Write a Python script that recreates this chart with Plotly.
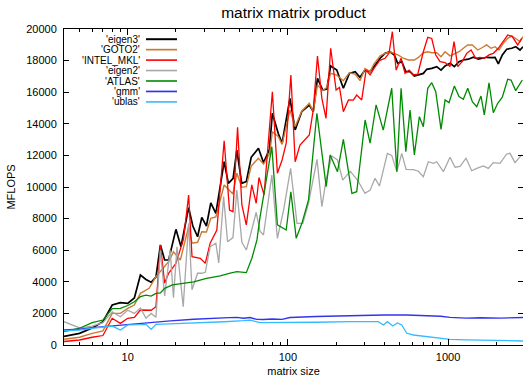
import plotly.graph_objects as go

# ---------------- data ----------------
eigen3_x = [4, 5, 6, 7, 8, 9, 10, 11, 12, 13, 14, 15, 16, 17, 18, 20, 21.5, 24, 25.5, 27.3, 29, 31, 33, 35.5,
            40, 42.5, 45.5, 48, 51.5, 55, 59, 65.5, 70.5, 76.7, 80, 87, 92, 103, 111, 122, 136, 144, 153, 165,
            175, 185, 202, 222, 242, 263, 282, 303, 326, 345, 377, 404, 434, 462, 485, 514, 545, 579, 616, 653,
            701, 736, 791, 850, 904, 958, 1029, 1095, 1171, 1246, 1338, 1438, 1545, 1637, 1743, 1854, 1965, 2060,
            2182, 2324, 2497, 2645, 2813, 2937]
eigen3_y = [550, 740, 1075, 1475, 2530, 2680, 2640, 2975, 4430, 4150, 3970, 4300, 6330, 5380, 5380, 7320, 6220,
            8690, 7530, 6850, 8080, 7530, 9000, 8330, 11600, 10230, 10550, 12340, 10230, 10340, 11880, 12450, 11540,
            12390, 14670, 13400, 12770, 15610, 13610, 14770, 15190, 14770, 16880, 16140, 16200, 17660, 17400, 16250,
            17190, 17300, 16940, 17400, 17300, 17620, 18150, 18460, 18560, 18350, 17830, 17930, 17300, 17300, 17030,
            17100, 17190, 17450, 17510, 17620, 17400, 17660, 17830, 17620, 17930, 18040, 18090, 18210, 18090, 18150,
            18210, 18190, 18210, 17790, 18360, 18720, 18780, 18880, 18670, 18880]

goto2_x = [4, 5, 6, 7, 8, 9, 10, 11, 12, 13.6, 15, 16, 17, 18, 19.3, 21.3, 24, 25.2, 27.3, 29, 31, 33, 35.5, 40,
           45.4, 48, 51.5, 55, 59, 65.5, 70.5, 77, 80, 87, 92, 103, 111, 122, 136, 144, 153, 165, 175, 185, 202,
           222, 242, 263, 282, 303, 326, 345, 377, 404, 434, 462, 490, 526, 565, 616, 653, 701, 747, 791, 850, 904,
           958, 1029, 1095, 1171, 1246, 1327, 1418, 1532, 1637, 1743, 1854, 1965, 2080, 2213, 2358, 2497, 2683,
           2813, 2937]
goto2_y = [360, 490, 740, 890, 2000, 2000, 2320, 2530, 3270, 3590, 4320, 4650, 5000, 5270, 5900, 5380, 7490, 6440,
           6500, 7170, 7150, 8020, 8100, 10130, 9560, 10870, 9980, 10020, 11330, 11820, 11450, 12130, 13500, 13200,
           12700, 14870, 13820, 14800, 15300, 14770, 16460, 16100, 16300, 17190, 17080, 16730, 17230, 17150, 16730,
           17500, 17300, 17800, 18300, 18460, 18560, 18450, 18350, 18150, 18040, 18040, 18200, 18500, 18560, 18500,
           18500, 18250, 18560, 18300, 18420, 18560, 18780, 18990, 18990, 18670, 18830, 18990, 18780, 18880, 18670,
           19090, 19410, 19560, 19350, 19200, 19520]

mkl_x = [4, 5, 6, 7, 8, 9, 10, 11, 12, 14, 15, 16, 17, 18, 20, 21.3, 22.3, 24, 25.2, 28.4, 30.5, 32.7, 36, 40,
         43.2, 45.4, 48.5, 51.6, 55, 59.5, 63.4, 66, 71, 80, 86, 92, 97.6, 104.4, 111, 119, 128, 136, 144, 153,
         163, 173, 185, 200, 210, 222, 239, 256, 269, 289, 308, 326, 345, 373, 404, 428, 449, 474, 509, 539, 571,
         607, 647, 701, 747, 791, 838, 891, 958, 1029, 1090, 1150, 1228, 1308, 1392, 1489, 1583, 1684, 1802, 1917,
         2060, 2213, 2358, 2518, 2723, 2883]
mkl_y = [220, 316, 490, 600, 1690, 1370, 1690, 1750, 2215, 2200, 2420, 6330, 3920, 4540, 5170, 6010, 6700, 9490,
         5590, 5490, 5170, 6440, 7280, 12930, 8540, 8440, 13780, 8860, 7600, 10130, 8970, 10600, 9500, 16030, 10870,
         11710, 12770, 17090, 11600, 12660, 12980, 13290, 14870, 18290, 15610, 14350, 18780, 16140, 16300, 14770,
         15510, 15500, 15820, 15510, 17400, 17100, 17500, 18000, 18150, 18460, 19830, 17400, 18150, 17190, 17400,
         17090, 17140, 18560, 19470, 19400, 18350, 17930, 17880, 17620, 19200, 17620, 17950, 18460, 18670, 18150,
         18200, 18150, 18360, 18460, 18780, 19200, 19620, 19520, 18990, 19410]

eigen2_x = [4, 5, 6, 7, 8, 9, 10, 11, 12, 13, 14, 15, 16, 17, 18.4, 19.3, 20.3, 22.2, 24, 25.2, 27.3, 29, 30.5,
            32.7, 35.5, 37, 39.7, 42, 45.4, 48, 51.6, 55, 58, 63.4, 67, 70.4, 79.4, 86, 94, 104, 114, 124, 134.5,
            152, 163, 173, 188, 204, 220, 245, 272, 303, 326, 350, 373, 418, 445, 479, 514, 547, 607, 653, 701, 753,
            810, 850, 935, 1029, 1106, 1188, 1295, 1405, 1510, 1660, 1784, 1917, 2110, 2324, 2437, 2618, 2883]
eigen2_y = [1475, 1080, 1200, 1410, 2100, 1790, 2200, 2000, 2340, 1700, 2000, 1750, 6000, 3100, 6000, 3000, 6220,
            2420, 7700, 3500, 4540, 4540, 4600, 6220, 6440, 5200, 9390, 6540, 6800, 9810, 6500, 6010, 6850, 8400,
            7200, 6960, 10760, 6750, 8540, 11180, 7700, 7700, 8970, 11750, 8750, 10440, 11960, 11710, 10440, 11000,
            10440, 9600, 9800, 10550, 10060, 12130, 12000, 10970, 12130, 11120, 11100, 11000, 10650, 11600, 11500,
            11600, 10970, 11880, 11250, 11300, 11820, 11030, 11180, 11330, 11180, 11540, 11500, 12090, 12130, 11540,
            12030]

atlas_x = [4, 5, 6, 7, 8, 9, 10, 11, 12, 13, 14, 15, 16, 17, 19, 22, 25.8, 31, 37.8, 43, 48, 55, 59.6, 64.1, 67,
           79.4, 86, 97.6, 104.4, 112.7, 122.3, 134.5, 151.7, 173.4, 183.6, 204, 222, 251, 269, 303.5, 326, 355.5,
           394, 445, 479, 509, 545, 579, 616, 662, 701, 747, 791, 838, 904, 958, 1014, 1095, 1171, 1246, 1327, 1418,
           1510, 1606, 1684, 1802, 1917, 2042, 2182, 2358, 2472, 2645, 2908]
atlas_y = [840, 1060, 1410, 1580, 2300, 2320, 2500, 2740, 3060, 3160, 3100, 3270, 3300, 3590, 3800, 3900, 4000,
           4220, 4370, 4540, 4640, 4580, 5490, 6650, 8100, 12550, 7600, 7280, 9700, 6750, 7700, 9180, 14670, 10020,
           12030, 10970, 13020, 9600, 9700, 14240, 12770, 15200, 13600, 16250, 10970, 16250, 12230, 14870, 12030,
           14450, 13820, 16250, 16600, 16030, 13650, 15510, 15340, 16390, 15720, 15550, 16250, 15400, 15080, 15760,
           14560, 16600, 14700, 15300, 15680, 16820, 16770, 16100, 16770]

gmm_x = [4, 5, 6, 7, 8, 10, 13, 16, 18.5, 25.8, 31, 35, 43, 48, 52.8, 58, 64, 70, 80, 92, 103, 150, 200, 300, 395,
         550, 737, 900, 1029, 1300, 1600, 2110, 2937]
gmm_y = [950, 1000, 1100, 1160, 1200, 1310, 1400, 1475, 1530, 1630, 1650, 1690, 1730, 1750, 1690, 1740, 1620, 1610,
         1650, 1620, 1740, 1800, 1835, 1870, 1900, 1900, 1880, 1820, 1750, 1700, 1720, 1700, 1740]

ublas_x = [4, 5, 6, 7, 8, 9, 10, 12, 13, 14, 15, 20, 30, 33, 40, 52.8, 58, 67, 94, 150, 245, 367, 395, 418, 452,
           483, 514, 553, 607, 736, 935, 1029, 1308, 1660, 2213, 2937]
ublas_y = [900, 950, 1050, 1150, 1200, 950, 1270, 1290, 1310, 990, 1310, 1350, 1400, 1435, 1470, 1540, 1580, 1410,
           1410, 1440, 1475, 1475, 1270, 1475, 1200, 1400, 1270, 740, 633, 525, 400, 360, 330, 316, 290, 253]

series_names = ["'eigen3'", "'GOTO2'", "'INTEL_MKL'", "'eigen2'", "'ATLAS'", "'gmm'", "'ublas'"]
y_ticks = [0, 2000, 4000, 6000, 8000, 10000, 12000, 14000, 16000, 18000, 20000]
x_ticks = [10, 100, 1000]
x_minor = [4, 5, 6, 7, 8, 9, 20, 30, 40, 50, 60, 70, 80, 90, 200, 300, 400, 500, 600, 700, 800, 900, 2000]

# ---------------- style ----------------
colors = ["#000000", "#cc7a33", "#ff0000", "#a8a8a8", "#008a00", "#3333ee", "#33bbff"]
widths = [1.7, 1.4, 1.3, 1.3, 1.3, 1.4, 1.3]
FONT = "Liberation Sans, Arial, sans-serif"

W, H = 523, 377
L, R, T, B = 64, 0, 29, 32

fig = go.Figure()
data = [(eigen3_x, eigen3_y), (goto2_x, goto2_y), (mkl_x, mkl_y), (eigen2_x, eigen2_y),
        (atlas_x, atlas_y), (gmm_x, gmm_y), (ublas_x, ublas_y)]
for (xs, ys), name, c, w in zip(data, series_names, colors, widths):
    fig.add_trace(go.Scatter(x=xs, y=ys, mode="lines", name=name,
                             line=dict(color=c, width=w), showlegend=False))

# gnuplot-style legend: right-aligned text, sample line to its right
pw = W - L - R
ph = H - T - B
def px_x(p):
    return (p - L) / pw
def px_y(p):
    return (H - B - p) / ph

row0, step = 39.2, 10.45
for i, (name, c, w) in enumerate(zip(series_names, colors, widths)):
    yy = row0 + i * step
    fig.add_annotation(x=px_x(141), y=px_y(yy), xref="paper", yref="paper",
                       text=name, showarrow=False, xanchor="right", yanchor="middle",
                       borderpad=0, font=dict(family=FONT, size=10, color="#000"))
    fig.add_shape(type="line", xref="paper", yref="paper",
                  x0=px_x(146), x1=px_x(177), y0=px_y(yy), y1=px_y(yy),
                  line=dict(color=c, width=w + 0.3))

fig.update_layout(
    width=W, height=H,
    margin=dict(l=L, r=R, t=T, b=B, autoexpand=False),
    paper_bgcolor="white", plot_bgcolor="white",
    font=dict(family=FONT, size=11, color="#000"),
    title=dict(text="matrix matrix product", x=293.5 / W, xref="container", xanchor="center",
               y=1 - 13 / H, yref="container", yanchor="middle",
               font=dict(family=FONT, size=15.5, color="#000")),
    showlegend=False,
)
fig.update_xaxes(
    type="log", range=[0.60206, 3.468],
    tickvals=x_ticks, ticktext=[str(v) for v in x_ticks],
    ticks="inside", ticklen=6, tickwidth=1, tickcolor="#000",
    minor=dict(tickvals=x_minor, ticks="inside", ticklen=3, tickwidth=1, tickcolor="#000", showgrid=False),
    showline=True, linecolor="#000", linewidth=1, mirror="allticks",
    showgrid=False, zeroline=False, automargin=False,
    tickfont=dict(family=FONT, size=11), ticklabelstandoff=2,
    title=dict(text="matrix size", font=dict(family=FONT, size=11), standoff=6),
)
fig.update_yaxes(
    range=[0, 20000], tickvals=y_ticks, ticktext=[str(v) for v in y_ticks],
    ticks="inside", ticklen=5, tickwidth=1, tickcolor="#000",
    showline=True, linecolor="#000", linewidth=1, mirror="allticks",
    showgrid=False, zeroline=False, automargin=False,
    tickfont=dict(family=FONT, size=11), ticklabelstandoff=4,
    title=dict(text="MFLOPS", font=dict(family=FONT, size=11), standoff=8),
)

fig.write_html("out.html", config={"displayModeBar": False},
               post_script="document.body.style.margin='0px';")
